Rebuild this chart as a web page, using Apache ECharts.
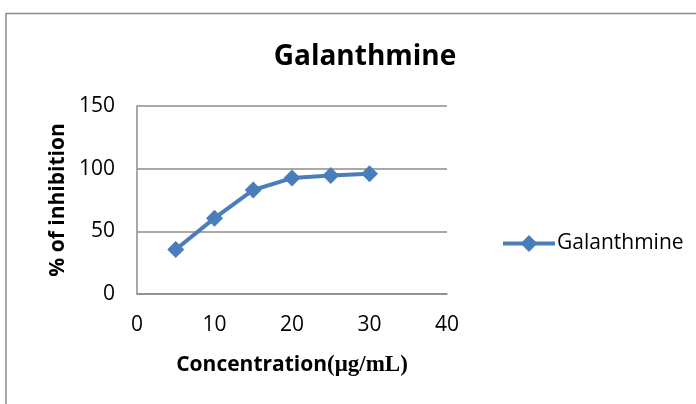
<!DOCTYPE html>
<html><head><meta charset="utf-8">
<script src="https://cdn.jsdelivr.net/npm/echarts@6/dist/echarts.min.js"></script>
<style>html,body{margin:0;padding:0;background:#fff}#c{width:696px;height:404px}</style>
</head><body><div id="c"></div>
<script>
const xValues = [5, 10, 15, 20, 25, 30];
const inhibition = [35.5, 60.5, 83, 92.5, 94.5, 96];
const seriesName = 'Galanthmine';
const chart = echarts.init(document.getElementById('c'));
chart.setOption({
  animation: false,
  backgroundColor: '#fff',
  graphic: [{type:'rect', shape:{x:6, y:13.5, width:700, height:400}, style:{fill:'none', stroke:'#8c8c8c', lineWidth:1.5}, z:-1}],
  title: {text: 'Galanthmine', left: 360, top: 38, textAlign: 'center',
    textStyle: {fontFamily: 'Open Sans', fontWeight: 'bold', fontSize: 28, color: '#000'}},
  legend: {data:[seriesName], left: 496, top: 228, itemWidth: 52, itemHeight: 21, itemGap: 4,
    lineStyle:{width:4}, itemStyle:{},
    textStyle:{fontFamily:'Open Sans', fontSize:21, color:'#000', padding:[0,0,0,-3]}},
  grid: {left: 137, right: 249, top: 106, bottom: 110},
  xAxis: {type:'value', min:0, max:40, interval:10,
    name: '{a|Concentration}{b|(μg/mL)}', nameLocation:'middle', nameGap: 60,
    nameTextStyle: {rich:{a:{fontFamily:'Open Sans', fontWeight:'bold', fontSize:21, color:'#000'},
                          b:{fontFamily:'Liberation Serif', fontWeight:'bold', fontSize:23, color:'#000'}}},
    axisLine:{lineStyle:{color:'#8c8c8c', width:1.5}}, axisTick:{show:false}, splitLine:{show:false},
    axisLabel:{fontFamily:'Open Sans', fontSize:21, color:'#000', margin:21}},
  yAxis: {type:'value', min:0, max:150, interval:50,
    name: '% of inhibition', nameLocation:'middle', nameGap: 68, nameRotate: 90,
    nameTextStyle:{fontFamily:'Open Sans', fontWeight:'bold', fontSize:21, color:'#000'},
    axisLine:{show:true, lineStyle:{color:'#8c8c8c', width:1.5}}, axisTick:{show:false},
    splitLine:{lineStyle:{color:'#8c8c8c', width:1.5}},
    axisLabel:{fontFamily:'Open Sans', fontSize:21, color:'#000', margin:22}},
  series: [{name: seriesName, type:'line', data: xValues.map((x,i)=>[x, inhibition[i]]),
    symbol:'diamond', symbolSize: 17, color:'#4a7ebb',
    lineStyle:{width:4, color:'#4a7ebb'}, itemStyle:{color:'#4a7ebb'}}]
});
</script></body></html>
